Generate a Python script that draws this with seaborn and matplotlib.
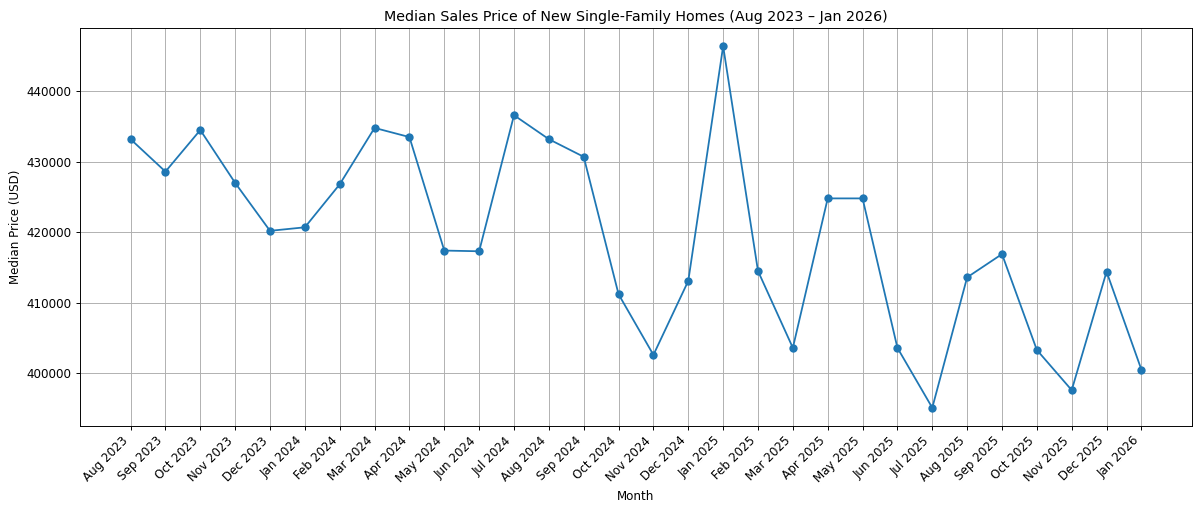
import pandas as pd
import seaborn as sns
import matplotlib.pyplot as plt

# dados
meses = ['Aug 2023', 'Sep 2023', 'Oct 2023', 'Nov 2023', 'Dec 2023', 'Jan 2024',
         'Feb 2024', 'Mar 2024', 'Apr 2024', 'May 2024', 'Jun 2024', 'Jul 2024',
         'Aug 2024', 'Sep 2024', 'Oct 2024', 'Nov 2024', 'Dec 2024', 'Jan 2025',
         'Feb 2025', 'Mar 2025', 'Apr 2025', 'May 2025', 'Jun 2025', 'Jul 2025',
         'Aug 2025', 'Sep 2025', 'Oct 2025', 'Nov 2025', 'Dec 2025', 'Jan 2026']
precos = [433200, 428600, 434500, 427000, 420200, 420700,
          426800, 434800, 433500, 417400, 417300, 436600,
          433200, 430700, 411200, 402600, 413100, 446400,
          414500, 403600, 424800, 424800, 403600, 395100,
          413600, 416900, 403300, 397600, 414400, 400500]

dados = pd.DataFrame({'pos': range(len(meses)), 'preco': precos})

# figura maior, salva com dpi menor -> 1200x510
fig, ax = plt.subplots(figsize=(14, 5.95), dpi=1200 / 14)
sns.lineplot(data=dados, x='pos', y='preco', marker='o', markersize=7,
             markeredgewidth=0, color='#1f77b4', ax=ax)

ax.set_xticks(dados['pos'])
ax.set_xticklabels(meses, rotation=45, ha='right')
ax.set_title('Median Sales Price of New Single-Family Homes (Aug 2023 \u2013 Jan 2026)')
ax.set_xlabel('Month')
ax.set_ylabel('Median Price (USD)')
ax.grid(True)
ax.ticklabel_format(axis='y', style='plain', useOffset=False)

plt.subplots_adjust(left=0.0667, right=0.9933, top=0.945, bottom=0.165)
plt.savefig('out.png', dpi=1200 / 14)
